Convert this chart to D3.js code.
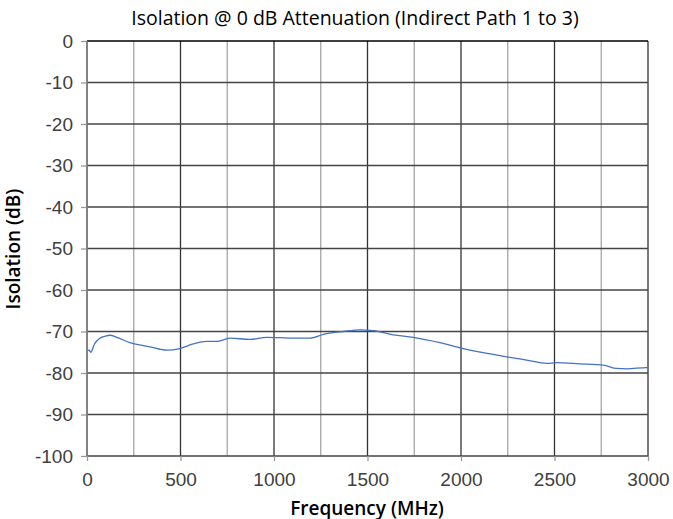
<!DOCTYPE html>
<html>
  <head>
    <meta charset="utf-8">
    <style>
      body {
        margin: 0;
        font-family: "Open Sans", sans-serif;
        background: #fff;
      }
      .line {
        fill: none;
        stroke: #4472c4;
        stroke-width: 1.3px;
      }
      .tick text {
        font-size: 19px;
        fill: #404040;
      }
    </style>
  </head>
  <body>
    <script src="https://d3js.org/d3.v7.min.js"></script>
    <script>
    // values
      var freq = [5, 12, 20, 40, 70, 100, 123, 160, 230, 337, 426, 497, 568, 640, 693, 765, 872,
                  961, 1103, 1193, 1264, 1371, 1460, 1531, 1638, 1745, 1888, 2012, 2119, 2244,
                  2351, 2458, 2512, 2636, 2761, 2832, 2886, 2993, 3000];
      var isolation = [-74.6, -74.5, -75.0, -73.0, -71.6, -71.1, -70.9, -71.4, -72.7, -73.7, -74.5,
                       -74.1, -73.0, -72.4, -72.4, -71.6, -71.9, -71.4, -71.6, -71.6, -70.7, -70.0,
                       -69.6, -69.8, -70.8, -71.4, -72.7, -74.1, -75.1, -76.1, -76.9, -77.7, -77.5,
                       -77.8, -78.1, -78.9, -79.0, -78.7, -78.7];
      var x_ticks = [0, 500, 1000, 1500, 2000, 2500, 3000];
      var x_minor = [250, 750, 1250, 1750, 2250, 2750];
      var y_ticks = [0, -10, -20, -30, -40, -50, -60, -70, -80, -90, -100];

      var margin = {left: 87, right: 25, top: 41, bottom: 63},
          width = 673 - margin.left - margin.right,
          height = 519 - margin.top - margin.bottom;

      var x_scale = d3.scaleLinear().domain([0, 3000]).range([0, width]);
      var y_scale = d3.scaleLinear().domain([-100, 0]).range([height, 0]);

      var svg = d3.select("body").append("svg")
          .attr("width", 673).attr("height", 519);
      var g = svg.append("g")
          .attr("transform", "translate(" + [margin.left, margin.top] + ")");

    //gridlines
      g.selectAll(".minor").data(x_minor).enter().append("line")
          .attr("x1", d => x_scale(d)).attr("x2", d => x_scale(d))
          .attr("y1", 0).attr("y2", height)
          .attr("stroke", "#a6a6a6").attr("stroke-width", 1.3);
      g.selectAll(".major").data(x_ticks).enter().append("line")
          .attr("x1", d => x_scale(d)).attr("x2", d => x_scale(d))
          .attr("y1", 0).attr("y2", height)
          .attr("stroke", "#333").attr("stroke-width", 1.3);
      g.selectAll(".hgrid").data(y_ticks).enter().append("line")
          .attr("x1", 0).attr("x2", width)
          .attr("y1", d => y_scale(d)).attr("y2", d => y_scale(d))
          .attr("stroke", d => d == 0 ? "#000" : "#444").attr("stroke-width", 1.3);

    //axes
      var x_axis = g.append("g")
          .attr("transform", "translate(0," + height + ")")
          .call(d3.axisBottom(x_scale).tickValues(x_ticks).tickSize(5).tickPadding(12).tickFormat(d => String(d)));
      var y_axis = g.append("g")
          .call(d3.axisLeft(y_scale).tickValues(y_ticks).tickSize(6).tickPadding(8).tickFormat(d => String(d)));
      svg.selectAll(".domain").remove();
      svg.selectAll(".tick line").attr("stroke", "#999").attr("stroke-width", 1.3);
      g.append("line").attr("x1", 0).attr("x2", 0).attr("y1", 0).attr("y2", height)
          .attr("stroke", "#888").attr("stroke-width", 1.3);

    //curve
      var line_generator = d3.line()
          .x((d, i) => x_scale(freq[i]))
          .y(d => y_scale(d))
          .curve(d3.curveMonotoneX);
      g.append("path").datum(isolation).attr("class", "line").attr("d", line_generator);

    //titles
      svg.append("text").attr("x", 355).attr("y", 25).attr("text-anchor", "middle")
          .style("font-size", "19.5px").style("fill", "#000")
          .text("Isolation @ 0 dB Attenuation (Indirect Path 1 to 3)");
      svg.append("text").attr("x", 367).attr("y", 515).attr("text-anchor", "middle")
          .style("font-size", "19px").style("font-weight", "600").style("fill", "#000")
          .text("Frequency (MHz)");
      svg.append("text").attr("transform", "translate(20,249) rotate(-90)").attr("text-anchor", "middle")
          .style("font-size", "19px").style("font-weight", "600").style("fill", "#000")
          .text("Isolation (dB)");
    </script>
  </body>
</html>
